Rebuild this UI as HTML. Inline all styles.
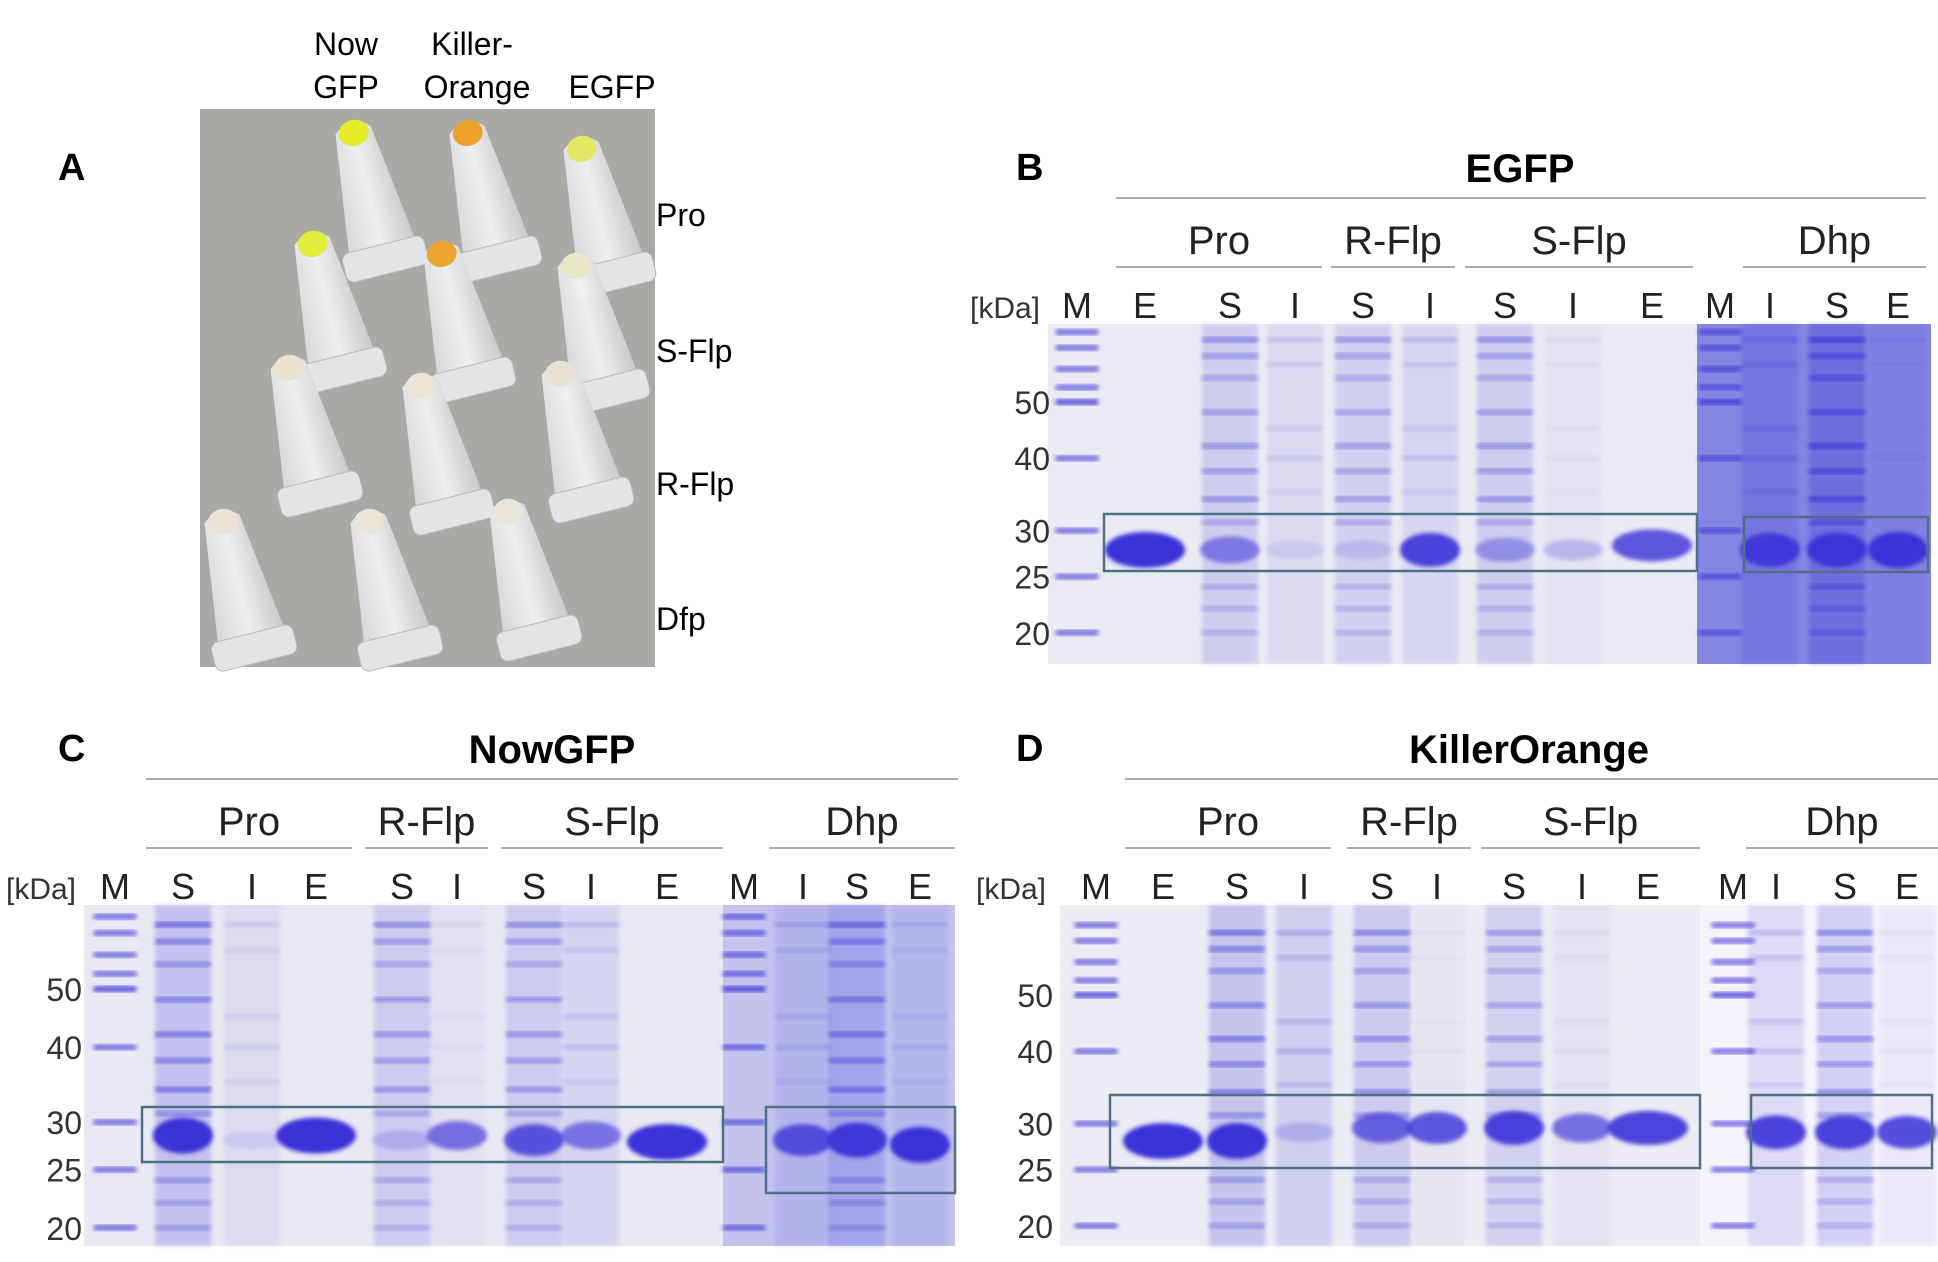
<!DOCTYPE html>
<html><head><meta charset="utf-8">
<style>
html,body{margin:0;padding:0;background:#fff;}
body{width:1938px;height:1262px;position:relative;overflow:hidden;font-family:"Liberation Sans",sans-serif;}
svg{position:absolute;left:0;top:0;}
text{font-family:"Liberation Sans",sans-serif;}
</style></head>
<body>
<svg id="fig" width="1938" height="1262" viewBox="0 0 1938 1262" xmlns="http://www.w3.org/2000/svg">
  <defs>
    <filter id="blur1"><feGaussianBlur stdDeviation="2"/></filter>
    <linearGradient id="tubeG" x1="0" x2="1"><stop offset="0" stop-color="#d8dadc"/><stop offset="0.5" stop-color="#f2f3f4"/><stop offset="1" stop-color="#c9cbcd"/></linearGradient>
  </defs>
  <g>
    <text x="58" y="180" font-size="38" font-weight="bold">A</text>
    <rect x="200" y="109" width="455" height="558" fill="#a9a9a6"/>
    <g id="tubes"></g>
    <text x="346" y="55" font-size="32" text-anchor="middle">Now</text>
    <text x="346" y="98" font-size="32" text-anchor="middle">GFP</text>
    <text x="472" y="55" font-size="32" text-anchor="middle">Killer-</text>
    <text x="477" y="98" font-size="32" text-anchor="middle">Orange</text>
    <text x="612" y="98" font-size="32" text-anchor="middle">EGFP</text>
    <text x="656" y="226" font-size="32">Pro</text>
    <text x="656" y="362" font-size="32">S-Flp</text>
    <text x="656" y="495" font-size="32">R-Flp</text>
    <text x="656" y="630" font-size="32">Dfp</text>
  </g>
  <g id="gels"></g>
</svg>
<script>
const NS="http://www.w3.org/2000/svg";
const fig=document.getElementById('fig');
function el(tag,attrs,parent){const e=document.createElementNS(NS,tag);for(const k in attrs)e.setAttribute(k,attrs[k]);(parent||fig).appendChild(e);return e;}

const tubeTipX=[353,467,581, 312,441,575, 288,420,559, 222,368,507];
const tubeTipY=[130,130,146, 241,251,263, 365,383,371, 519,519,509];
const tubeColor=["#e6ec2a","#eba12a","#e3e866","#e4ec3a","#eca433","#e8e8c8","#e9e2cf","#ece5d6","#e9e2d4","#ebe4d6","#ebe4d8","#ebe5d8"];
const tubesG=document.getElementById('tubes');
for(let i=0;i<tubeTipX.length;i++){
  const x=tubeTipX[i],y=tubeTipY[i];
  const g=el('g',{transform:`translate(${x},${y}) rotate(-14)`},tubesG);
  
  
  el('path',{d:"M-18,0 Q0,-16 18,0 L34,120 L-34,120 Z",fill:"url(#tubeG)",opacity:0.95},g);
  el('rect',{x:-42,y:118,width:84,height:30,rx:8,fill:"#e2e4e6",stroke:"#b8babc"},g);
  el('ellipse',{cx:0,cy:3,rx:15,ry:13,fill:tubeColor[i]},g);
}

const BANDC="#3a32d8";
function yScale(g,k){return g.y50+(Math.log10(50)-Math.log10(k))*g.slope;}
const markerTicks=[50,40,30,25,20];
const ladderKda=[66,62,57,53,50,40,30,25,20];

const gelB={x0:1048,x1:1697,x2:1931,y0:324,y1:664,y50:402,slope:580,bgL:"#ebebf3",bgR:"#8585e2",tickX:1050};
const gelC={x0:84,x1:723,x2:955,y0:905,y1:1246,y50:989,slope:600,bgL:"#e9e9f3",bgR:"#c3c3ee",tickX:82};
const gelD={x0:1060,x1:1700,x2:1938,y0:905,y1:1246,y50:995,slope:580,bgL:"#ececf4",bgR:"#f5f4fb",tickX:1053};

const lanesB_label=["M","E","S","I","S","I","S","I","E","M","I","S","E"];
const lanesB_x=[1077,1145,1230,1295,1363,1430,1505,1573,1652,1720,1770,1837,1898];
const lanesB_smear=[0,0,0.45,0.25,0.4,0.3,0.45,0.1,0,0,0.5,0.8,0.2];
const lanesB_main=[0,1.0,0.55,0.1,0.15,0.9,0.4,0.25,0.8,0,0.9,0.95,1.0];
const lanesB_kda=[0,27.8,27.8,27.8,27.8,27.8,27.8,27.8,28.3,0,27.8,27.8,27.8];

const lanesC_label=["M","S","I","E","S","I","S","I","E","M","I","S","E"];
const lanesC_x=[115,183,252,316,402,457,534,591,667,744,803,857,920];
const lanesC_smear=[0,0.6,0.2,0,0.45,0.1,0.45,0.3,0,0,0.3,0.6,0.25];
const lanesC_main=[0,1.0,0.1,1.0,0.2,0.65,0.8,0.6,1.0,0,0.8,0.95,1.0];
const lanesC_kda=[0,28.5,28,28.5,28,28.5,28,28.5,27.8,0,28,28,27.5];

const lanesD_label=["M","E","S","I","S","I","S","I","E","M","I","S","E"];
const lanesD_x=[1096,1163,1237,1304,1382,1437,1514,1582,1648,1733,1776,1845,1907];
const lanesD_smear=[0,0,0.6,0.45,0.5,0.08,0.4,0.12,0,0,0.35,0.5,0.12];
const lanesD_main=[0,1.0,1.0,0.2,0.7,0.8,0.9,0.65,0.9,0,0.9,0.9,0.85];
const lanesD_kda=[0,28,28,29,29.5,29.5,29.5,29.5,29.5,0,29,29,29];

const bandsS=[[64,0.6],[60,0.5],[55,0.4],[48,0.5],[42,0.55],[38,0.5],[34,0.55],[31,0.4],[24,0.35],[22,0.3],[20,0.3]];
const bandsI=[[64,0.35],[58,0.25],[45,0.25],[40,0.3],[35,0.2]];

function drawGel(g,name,labels,xs,smear,main,kdas,groups,title,titleX,panel,panelX,boxes){
  const G=el('g',{});
  
  
  el('rect',{x:g.x0,y:g.y0,width:g.x1-g.x0,height:g.y1-g.y0,fill:g.bgL},G);
  el('rect',{x:g.x1,y:g.y0,width:g.x2-g.x1,height:g.y1-g.y0,fill:g.bgR},G);
  const y0=g.y0;
  const pl=el('text',{x:panelX,y:y0-144,'font-size':38,'font-weight':'bold'},G);pl.textContent=panel;
  
  
  const tt=el('text',{x:titleX,y:y0-142,'font-size':40,'font-weight':'bold','text-anchor':'middle'},G);tt.textContent=title;
  
  
  el('line',{x1:groups.lineX0,x2:groups.lineX1,y1:y0-126,y2:y0-126,stroke:"#aaa","stroke-width":2},G);
  for(let i=0;i<groups.names.length;i++){
    const a=groups.x0[i],b=groups.x1[i];
    const t=el('text',{x:(a+b)/2,y:y0-70,'font-size':40,'text-anchor':'middle',fill:'#222'},G);t.textContent=groups.names[i];
    
    
    el('line',{x1:a,x2:b,y1:y0-57,y2:y0-57,stroke:"#aaa","stroke-width":2},G);
  }
  const kl=el('text',{x:groups.kdaX,y:y0-6,'font-size':30,fill:'#333','text-anchor':'middle'},G);kl.textContent="[kDa]";
  
  
  for(let i=0;i<labels.length;i++){
    const t=el('text',{x:xs[i],y:y0-6,'font-size':36,'text-anchor':'middle',fill:'#222'},G);t.textContent=labels[i];
    
    
  }
  for(const k of markerTicks){
    const t=el('text',{x:g.tickX,y:yScale(g,k)+12,'font-size':32,'text-anchor':'end',fill:'#333'},G);t.textContent=k;
    
    
  }
  for(let i=0;i<labels.length;i++){
    const x=xs[i];
    if(labels[i]==="M"){
      for(const k of ladderKda){
        const b=el('rect',{x:x-22,y:yScale(g,k)-3,width:44,height:6,rx:3,fill:BANDC,opacity:(k===50?0.8:0.65),filter:"url(#blur1)"},G);
        
        
      }
      continue;
    }
    const w=(labels[i]==="E"&&smear[i]===0)?76:56;
    if(smear[i]>0){
      el('rect',{x:x-w/2,y:g.y0,width:w,height:g.y1-g.y0,fill:BANDC,opacity:smear[i]*0.35,filter:"url(#blur1)"},G);
      const list=labels[i]==="S"?bandsS:bandsI;
      for(const [k,s] of list){
        const b=el('rect',{x:x-w/2,y:yScale(g,k)-3,width:w,height:6,fill:BANDC,opacity:Math.min(1,s*smear[i]*1.6),filter:"url(#blur1)"},G);
        
        
      }
    }
    if(main[i]>0){
      const b=el('ellipse',{cx:x,cy:yScale(g,kdas[i]),rx:w/2+2,ry:8+10*main[i],fill:BANDC,opacity:main[i],filter:"url(#blur1)"},G);
      
      
    }
  }
  for(const bx of boxes){
    const r=el('rect',{x:bx[0],y:bx[1],width:bx[2]-bx[0],height:bx[3]-bx[1],fill:'none',stroke:'#4f6f85','stroke-width':2.5},G);
    
    
  }
}

drawGel(gelB,'gel-egfp',lanesB_label,lanesB_x,lanesB_smear,lanesB_main,lanesB_kda,
  {lineX0:1116,lineX1:1926,names:["Pro","R-Flp","S-Flp","Dhp"],x0:[1116,1331,1465,1743],x1:[1322,1455,1693,1926],kdaX:1005},
  "EGFP",1520,"B",1016,[[1104,514,1697,571],[1744,517,1928,572]]);
drawGel(gelC,'gel-nowgfp',lanesC_label,lanesC_x,lanesC_smear,lanesC_main,lanesC_kda,
  {lineX0:146,lineX1:958,names:["Pro","R-Flp","S-Flp","Dhp"],x0:[146,365,501,769],x1:[352,488,723,955],kdaX:41},
  "NowGFP",552,"C",58,[[142,1107,723,1162],[766,1107,955,1193]]);
drawGel(gelD,'gel-killerorange',lanesD_label,lanesD_x,lanesD_smear,lanesD_main,lanesD_kda,
  {lineX0:1125,lineX1:1938,names:["Pro","R-Flp","S-Flp","Dhp"],x0:[1125,1347,1481,1746],x1:[1331,1471,1700,1938],kdaX:1011},
  "KillerOrange",1529,"D",1016,[[1110,1095,1700,1168],[1751,1095,1932,1168]]);
</script>
</body></html>
